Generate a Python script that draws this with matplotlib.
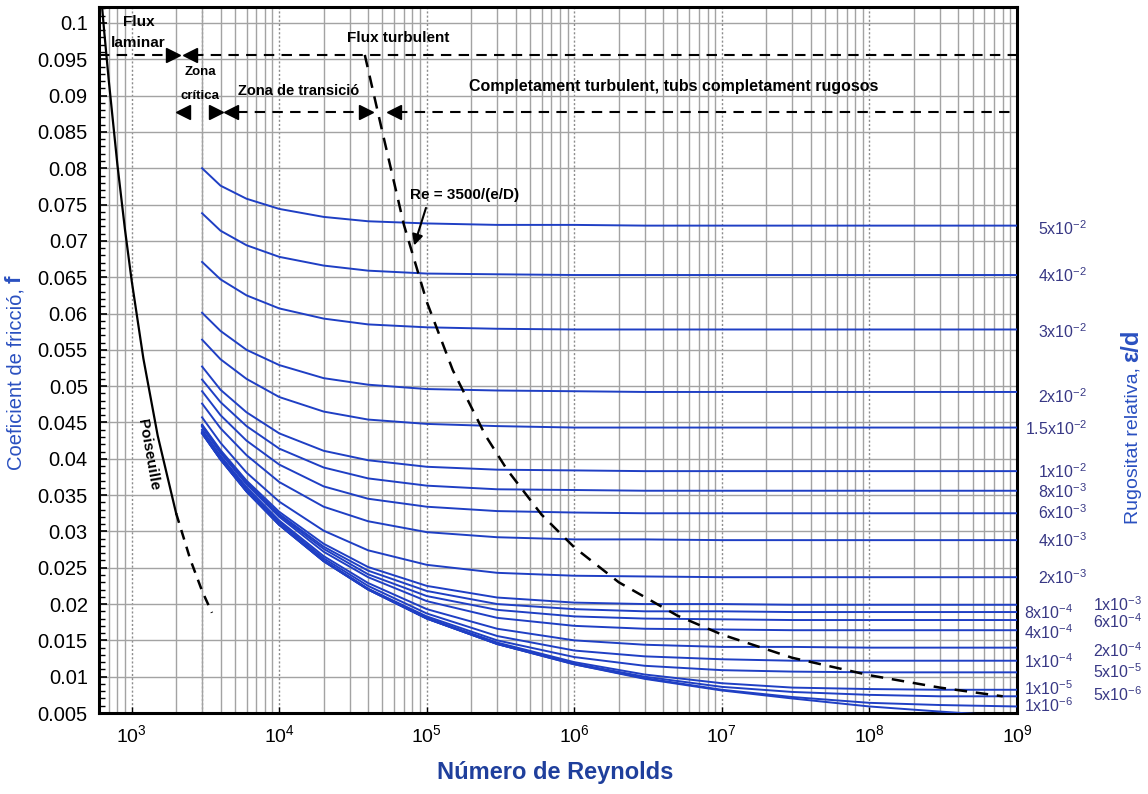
import numpy as np
import matplotlib
matplotlib.use("Agg")
import matplotlib.pyplot as plt
from matplotlib.ticker import FixedLocator, FixedFormatter, MultipleLocator, NullFormatter
from matplotlib.transforms import blended_transform_factory

plt.rcParams['font.family'] = ['Liberation Sans', 'DejaVu Sans']
plt.rcParams['mathtext.fontset'] = 'custom'
plt.rcParams['mathtext.rm'] = 'Liberation Sans'
plt.rcParams['mathtext.it'] = 'Liberation Sans:italic'
plt.rcParams['mathtext.bf'] = 'Liberation Sans:bold'

# ---------------- data ----------------
reynolds = [3e3, 4e3, 6e3, 1e4, 2e4, 4e4, 1e5, 3e5, 1e6, 3e6, 1e7, 3e7, 1e8, 3e8, 1e9]

f_5e2 = [0.0800, 0.0776, 0.0758, 0.0744, 0.0733, 0.0727, 0.0724, 0.0722, 0.0722, 0.0721, 0.0721, 0.0721, 0.0721, 0.0721, 0.0721]
f_4e2 = [0.0738, 0.0714, 0.0694, 0.0678, 0.0666, 0.0659, 0.0655, 0.0654, 0.0653, 0.0653, 0.0653, 0.0653, 0.0653, 0.0653, 0.0653]
f_3e2 = [0.0671, 0.0647, 0.0625, 0.0607, 0.0593, 0.0585, 0.0581, 0.0579, 0.0578, 0.0578, 0.0578, 0.0578, 0.0578, 0.0578, 0.0578]
f_2e2 = [0.0601, 0.0576, 0.0550, 0.0529, 0.0511, 0.0502, 0.0496, 0.0494, 0.0493, 0.0492, 0.0492, 0.0492, 0.0492, 0.0492, 0.0492]
f_15e3 = [0.0564, 0.0537, 0.0510, 0.0485, 0.0465, 0.0454, 0.0448, 0.0445, 0.0443, 0.0443, 0.0443, 0.0443, 0.0443, 0.0443, 0.0443]
f_1e2 = [0.0527, 0.0495, 0.0464, 0.0435, 0.0411, 0.0398, 0.0389, 0.0385, 0.0384, 0.0383, 0.0383, 0.0383, 0.0383, 0.0383, 0.0383]
f_8e3 = [0.0509, 0.0478, 0.0445, 0.0414, 0.0388, 0.0373, 0.0363, 0.0358, 0.0357, 0.0356, 0.0356, 0.0356, 0.0356, 0.0356, 0.0356]
f_6e3 = [0.0493, 0.0460, 0.0425, 0.0392, 0.0362, 0.0345, 0.0334, 0.0328, 0.0326, 0.0325, 0.0325, 0.0325, 0.0325, 0.0325, 0.0325]
f_4e3 = [0.0476, 0.0442, 0.0405, 0.0368, 0.0334, 0.0314, 0.0299, 0.0292, 0.0289, 0.0289, 0.0288, 0.0288, 0.0288, 0.0288, 0.0288]
f_2e3 = [0.0457, 0.0422, 0.0381, 0.0341, 0.0301, 0.0274, 0.0254, 0.0243, 0.0239, 0.0238, 0.0237, 0.0237, 0.0237, 0.0237, 0.0237]
f_1e3 = [0.0447, 0.0412, 0.0370, 0.0327, 0.0283, 0.0251, 0.0225, 0.0209, 0.0202, 0.0200, 0.0200, 0.0199, 0.0199, 0.0199, 0.0199]
f_8e4 = [0.0446, 0.0410, 0.0368, 0.0324, 0.0279, 0.0246, 0.0218, 0.0200, 0.0193, 0.0190, 0.0190, 0.0189, 0.0189, 0.0189, 0.0189]
f_6e4 = [0.0445, 0.0409, 0.0366, 0.0322, 0.0276, 0.0241, 0.0211, 0.0192, 0.0183, 0.0180, 0.0179, 0.0178, 0.0178, 0.0178, 0.0178]
f_4e4 = [0.0444, 0.0408, 0.0365, 0.0320, 0.0272, 0.0237, 0.0204, 0.0181, 0.0170, 0.0166, 0.0165, 0.0164, 0.0164, 0.0164, 0.0164]
f_2e4 = [0.0440, 0.0404, 0.0361, 0.0315, 0.0266, 0.0229, 0.0193, 0.0166, 0.0150, 0.0144, 0.0141, 0.0141, 0.0140, 0.0140, 0.0140]
f_1e4 = [0.0438, 0.0402, 0.0358, 0.0313, 0.0263, 0.0225, 0.0187, 0.0156, 0.0136, 0.0128, 0.0124, 0.0122, 0.0122, 0.0122, 0.0122]
f_5e5 = [0.0436, 0.0400, 0.0356, 0.0310, 0.0260, 0.0221, 0.0183, 0.0150, 0.0127, 0.0115, 0.0109, 0.0107, 0.0106, 0.0106, 0.0106]
f_1e5 = [0.0436, 0.0400, 0.0356, 0.0310, 0.0260, 0.0221, 0.0181, 0.0147, 0.0120, 0.0103, 0.0091, 0.0085, 0.0083, 0.0082, 0.0082]
f_5e6 = [0.0435, 0.0399, 0.0355, 0.0309, 0.0259, 0.0220, 0.0180, 0.0145, 0.0118, 0.0100, 0.0086, 0.0079, 0.0075, 0.0073, 0.0073]
f_1e6 = [0.0435, 0.0399, 0.0355, 0.0309, 0.0259, 0.0220, 0.0180, 0.0145, 0.0117, 0.0098, 0.0082, 0.0072, 0.0064, 0.0061, 0.0059]
f_smooth = [0.0435, 0.0399, 0.0355, 0.0309, 0.0259, 0.0220, 0.0180, 0.0145, 0.0117, 0.0097, 0.0081, 0.0070, 0.0059, 0.0052, 0.0045]

roughness_curves = [f_5e2, f_4e2, f_3e2, f_2e2, f_15e3, f_1e2, f_8e3, f_6e3, f_4e3, f_2e3,
                    f_1e3, f_8e4, f_6e4, f_4e4, f_2e4, f_1e4, f_5e5, f_1e5, f_5e6, f_1e6, f_smooth]

# laminar (Poiseuille) line
re_lam_solid = [600, 650, 700, 800, 900, 1000, 1200, 1500, 2000]
f_lam_solid = [0.1072, 0.0990, 0.0920, 0.0805, 0.0716, 0.0645, 0.0538, 0.0432, 0.0325]
re_lam_dash = [2000, 2500, 3000, 3500]
f_lam_dash = [0.0325, 0.0261, 0.0218, 0.0188]

# Re = 3500/(e/D) boundary
re_turb = [3.8e4, 5e4, 7e4, 1e5, 1.5e5, 2.5e5, 3.5e5, 6e5, 1e6, 2e6, 5e6, 1e7, 3e7, 1e8, 3e8, 8e8]
f_turb = [0.0956, 0.0850, 0.0722, 0.0616, 0.0522, 0.0432, 0.0385, 0.0323, 0.0278, 0.0230, 0.0184, 0.0158, 0.0126, 0.0102, 0.0085, 0.0073]

# right-hand roughness labels
lab_col1 = ["5x10$^{-2}$", "4x10$^{-2}$", "3x10$^{-2}$", "2x10$^{-2}$", "1.5x10$^{-2}$",
            "1x10$^{-2}$", "8x10$^{-3}$", "6x10$^{-3}$", "4x10$^{-3}$", "2x10$^{-3}$"]
lab_col1_f = [0.07175, 0.06518, 0.05748, 0.04853, 0.04418, 0.03821, 0.03546, 0.03252, 0.02867, 0.02362]
lab_col2 = ["8x10$^{-4}$", "4x10$^{-4}$", "1x10$^{-4}$", "1x10$^{-5}$", "1x10$^{-6}$"]
lab_col2_f = [0.01880, 0.01601, 0.01202, 0.00830, 0.00596]
lab_col3 = ["1x10$^{-3}$", "6x10$^{-4}$", "2x10$^{-4}$", "5x10$^{-5}$", "5x10$^{-6}$"]
lab_col3_f = [0.01986, 0.01757, 0.01357, 0.01068, 0.00748]

x_ticks = [1e3, 1e4, 1e5, 1e6, 1e7, 1e8, 1e9]
x_tick_labels = ["10$^{3}$", "10$^{4}$", "10$^{5}$", "10$^{6}$", "10$^{7}$", "10$^{8}$", "10$^{9}$"]
x_minor = [m * 10.0 ** k for k in range(2, 9) for m in range(2, 10) if 600 <= m * 10.0 ** k <= 1e9]
y_ticks = [0.005, 0.01, 0.015, 0.02, 0.025, 0.03, 0.035, 0.04, 0.045, 0.05,
           0.055, 0.06, 0.065, 0.07, 0.075, 0.08, 0.085, 0.09, 0.095, 0.1]
y_tick_labels = ["0.005", "0.01", "0.015", "0.02", "0.025", "0.03", "0.035", "0.04", "0.045", "0.05",
                 "0.055", "0.06", "0.065", "0.07", "0.075", "0.08", "0.085", "0.09", "0.095", "0.1"]

# ---------------- figure ----------------
fig = plt.figure(figsize=(11.48, 7.94), dpi=100)
ax = fig.add_axes([0.0862, 0.1020, 0.7997, 0.8892])
ax.set_xscale('log')
ax.set_xlim(600, 1e9)
ax.set_ylim(0.005, 0.1022)

grid_c = '#a3a3a3'
ax.xaxis.set_major_locator(FixedLocator(x_ticks))
ax.xaxis.set_major_formatter(FixedFormatter(x_tick_labels))
ax.xaxis.set_minor_locator(FixedLocator(x_minor))
ax.xaxis.set_minor_formatter(NullFormatter())
ax.yaxis.set_major_locator(FixedLocator(y_ticks))
ax.yaxis.set_major_formatter(FixedFormatter(y_tick_labels))
ax.yaxis.set_minor_locator(MultipleLocator(0.001))
ax.yaxis.set_minor_formatter(NullFormatter())

ax.grid(which='minor', axis='x', color=grid_c, lw=1.0, ls='-')
ax.grid(which='major', axis='x', color='#8c8c8c', lw=1.0, ls=(0, (1.5, 1.5)))
ax.grid(which='major', axis='y', color=grid_c, lw=1.0, ls='-')
ax.axvline(3000, color='#8c8c8c', lw=1.0, ls=(0, (1.5, 1.5)), zorder=0.5)
ax.set_axisbelow(True)

ax.tick_params(axis='y', which='major', direction='in', length=6, width=1.2, labelsize=14.5, pad=8, right=False)
ax.tick_params(axis='y', which='minor', direction='in', length=4, width=1.0, right=False)
ax.tick_params(axis='x', which='major', direction='in', length=4, width=1.0, labelsize=14, pad=8, top=False)
ax.tick_params(axis='x', which='minor', length=0)
for s in ax.spines.values():
    s.set_linewidth(2.2)
    s.set_color('black')

blue = '#1f3fc4'
for fv in roughness_curves:
    ax.plot(reynolds, fv, color=blue, lw=1.4, zorder=3)

# laminar
ax.plot(re_lam_solid, f_lam_solid, color='black', lw=1.6, zorder=4)
ax.plot(re_lam_dash, f_lam_dash, color='black', lw=1.8, ls=(0, (4, 3)), zorder=4)

# 3500/(e/D) line
ax.plot(re_turb, f_turb, color='black', lw=1.8, ls=(0, (5, 3.5)), zorder=4)

# zone dashed lines & arrows
dash = (0, (5, 3.5))
f_top, f_mid = 0.09556, 0.08776
ax.plot([600, 1830], [f_top, f_top], color='black', lw=1.5, ls=dash, zorder=4)
ax.plot([2620, 1e9], [f_top, f_top], color='black', lw=1.5, ls=dash, zorder=4)
ax.plot([5180, 3.7e4], [f_mid, f_mid], color='black', lw=1.5, ls=dash, zorder=4)
ax.plot([6.3e4, 1e9], [f_mid, f_mid], color='black', lw=1.5, ls=dash, zorder=4)
mk = dict(color='black', ms=10, ls='none', zorder=5)
ax.plot([1910], [f_top], marker='>', **mk)
ax.plot([2490], [f_top], marker='<', **mk)
ax.plot([2240], [f_mid], marker='<', **mk)
ax.plot([3720], [f_mid], marker='>', **mk)
ax.plot([4715], [f_mid], marker='<', **mk)
ax.plot([3.86e4], [f_mid], marker='>', **mk)
ax.plot([5.98e4], [f_mid], marker='<', **mk)

# annotations
tb = dict(fontweight='bold', color='black', zorder=6)
ax.text(1112, 0.1001, "Flux", ha='center', va='center', fontsize=11, **tb)
ax.text(1112, 0.0972, "laminar", ha='center', va='center', fontsize=11, **tb)
ax.text(2904, 0.0932, "Zona", ha='center', va='center', fontsize=9.5, **tb)
ax.text(2904, 0.0900, "crítica", ha='center', va='center', fontsize=9.5, **tb)
ax.text(1.36e4, 0.0907, "Zona de transició", ha='center', va='center', fontsize=10.5, **tb)
ax.text(2.9e4, 0.0979, "Flux turbulent", ha='left', va='center', fontsize=11, **tb)
ax.text(4.7e6, 0.0913, "Completament turbulent, tubs completament rugosos", ha='center', va='center', fontsize=11.5, **tb)
ax.text(7.7e4, 0.0763, "Re = 3500/(e/D)", ha='left', va='center', fontsize=11, **tb)
ax.annotate('', xy=(8.1e4, 0.0690), xytext=(1.0e5, 0.0749),
            arrowprops=dict(arrowstyle='-|>', color='black', lw=1.5, mutation_scale=16), zorder=6)
ax.text(1300, 0.0405, "Poiseuille", ha='center', va='center', rotation=-80, fontsize=11, **tb)

# right-hand labels
tr = blended_transform_factory(ax.transAxes, ax.transData)
lab_c = '#383885'
for s, fv in zip(lab_col1, lab_col1_f):
    ax.text(1.0763, fv, s, transform=tr, ha='right', va='center', fontsize=11.5, color=lab_c, clip_on=False)
for s, fv in zip(lab_col2, lab_col2_f):
    ax.text(1.0610, fv, s, transform=tr, ha='right', va='center', fontsize=11.5, color=lab_c, clip_on=False)
for s, fv in zip(lab_col3, lab_col3_f):
    ax.text(1.1360, fv, s, transform=tr, ha='right', va='center', fontsize=11.5, color=lab_c, clip_on=False)

# axis labels
ylab_c = '#2a50c0'
fig.text(0.0183, 0.6436, "Coeficient de fricció, ", rotation=90, rotation_mode='anchor',
         ha='right', va='baseline', fontsize=14.5, color=ylab_c)
fig.text(0.0183, 0.6436, "f", rotation=90, rotation_mode='anchor',
         ha='left', va='baseline', fontsize=16, fontweight='bold', color=ylab_c)
fig.text(0.9913, 0.5441, "Rugositat relativa, ", rotation=90, rotation_mode='anchor',
         ha='right', va='baseline', fontsize=14, color=ylab_c)
fig.text(0.9913, 0.5441, "ε/d", rotation=90, rotation_mode='anchor',
         ha='left', va='baseline', fontsize=17, fontweight='bold', color=ylab_c)
fig.text(0.4835, 0.027, "Número de Reynolds", ha='center', va='center', fontsize=17,
         fontweight='bold', color='#1f3f9c')

fig.savefig('out.png', dpi=100)
